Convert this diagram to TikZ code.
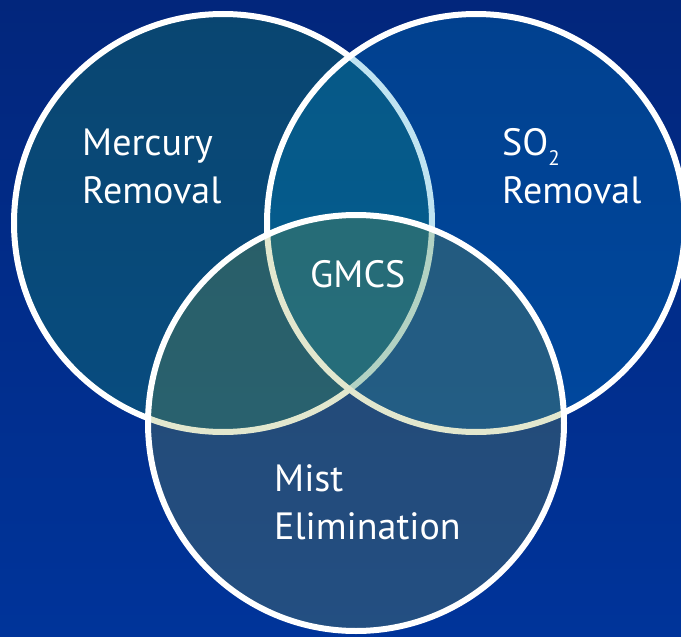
\documentclass[tikz,border=0pt]{standalone}
\usepackage{fontspec}
\setmainfont{PT Sans}

\definecolor{bgtop}{RGB}{2, 38, 124}
\definecolor{bgbottom}{RGB}{0, 52, 154}
\definecolor{mercfill}{RGB}{32, 165, 80}
\definecolor{sofill}{RGB}{0, 145, 200}
\definecolor{mistfill}{RGB}{140, 160, 60}

\begin{document}
\begin{tikzpicture}[
  x=1pt,
  y=-1pt,
  ring/.style={draw=white, line width=6pt},
  shade25/.style={fill opacity=0.25},
  venntext/.style={font=\fontsize{38}{48}\selectfont, text=white, align=left, anchor=base west, inner sep=0pt}
]

  % Background
  \useasboundingbox (0, 0) rectangle (681, 637);
  \shade[top color=bgtop, bottom color=bgbottom] (0, 0) rectangle (681, 637);

  % Mercury removal circle
  \fill[mercfill, shade25] (223, 223) circle[radius=209pt];
  \draw[ring] (223, 223) circle[radius=209pt];

  % SO2 removal circle
  \fill[sofill, shade25] (476, 223) circle[radius=209pt];
  \draw[ring] (476, 223) circle[radius=209pt];

  % Mist elimination circle
  \fill[mistfill, shade25] (356, 423) circle[radius=208pt];
  \draw[ring] (356, 423) circle[radius=208pt];

  % Labels (base = last line)
  \node[venntext] (mercury) at (82, 203) {Mercury\\Removal};
  \node[venntext] (sotwo) at (502, 203) {SO\raisebox{-10pt}{\fontsize{21}{21}\selectfont 2}\\Removal};
  \node[venntext] (gmcs) at (310, 287) {GMCS};
  \node[venntext] (mist) at (274, 539) {Mist\\Elimination};

\end{tikzpicture}
\end{document}
